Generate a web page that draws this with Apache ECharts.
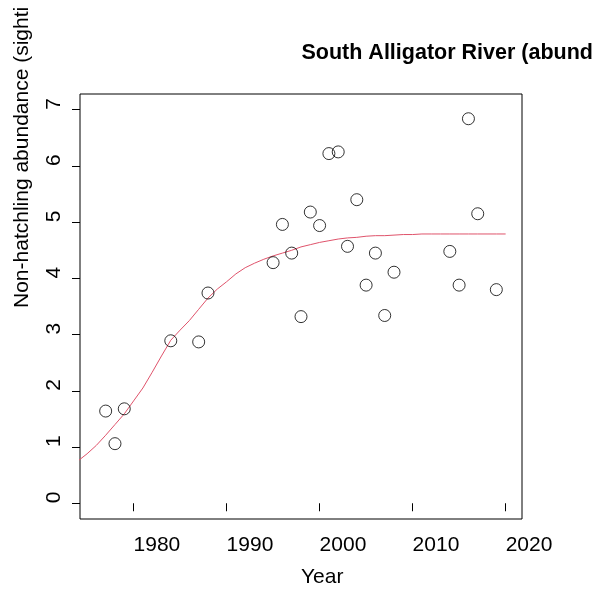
<!DOCTYPE html>
<html>
<head>
<meta charset="utf-8">
<script src="https://cdn.jsdelivr.net/npm/echarts@6/dist/echarts.min.js"></script>
<style>
  html, body { margin: 0; padding: 0; background: #fff; }
  #chart { width: 595px; height: 591px; }
</style>
</head>
<body>
<div id="chart"></div>
<script>
// Survey years and observed non-hatchling abundance
const surveyYears = [1977, 1978, 1979, 1984, 1987, 1988, 1995, 1996, 1997, 1998, 1999, 2000,
                     2001, 2002, 2003, 2004, 2005, 2006, 2007, 2008, 2014, 2015, 2016, 2017, 2019];
const abundance   = [1.64, 1.06, 1.68, 2.89, 2.87, 3.74, 4.28, 4.96, 4.45, 3.32, 5.18, 4.94,
                     6.22, 6.25, 4.57, 5.40, 3.88, 4.45, 3.34, 4.11, 4.48, 3.88, 6.84, 5.15, 3.80];

// Fitted growth curve, one value per year
const fitYears  = [1974, 1975, 1976, 1977, 1978, 1979, 1980, 1981, 1982, 1983, 1984, 1985,
                   1986, 1987, 1988, 1989, 1990, 1991, 1992, 1993, 1994, 1995, 1996, 1997,
                   1998, 1999, 2000, 2001, 2002, 2003, 2004, 2005, 2006, 2007, 2008, 2009,
                   2010, 2011, 2012, 2013, 2014, 2015, 2016, 2017, 2018, 2019, 2020];
const fitValues = [0.75, 0.88, 1.03, 1.21, 1.40, 1.59, 1.82, 2.05, 2.33, 2.62, 2.90, 3.08,
                   3.25, 3.45, 3.65, 3.81, 3.94, 4.08, 4.19, 4.27, 4.34, 4.40, 4.45, 4.50,
                   4.56, 4.60, 4.64, 4.67, 4.70, 4.72, 4.73, 4.75, 4.76, 4.76, 4.77, 4.78,
                   4.78, 4.79, 4.79, 4.79, 4.79, 4.79, 4.79, 4.79, 4.79, 4.79, 4.79];

// Axis tick labels
const xTicks = [1980, 1990, 2000, 2010, 2020];
const yTicks = [0, 1, 2, 3, 4, 5, 6, 7];

const FONT = "'Liberation Sans', Arial, Helvetica, sans-serif";

const chart = echarts.init(document.getElementById('chart'), null, { renderer: 'canvas' });

chart.setOption({
  backgroundColor: '#ffffff',
  animation: false,
  grid: {
    left: 80, top: 94, width: 442, height: 425,
    show: true, borderColor: '#000', borderWidth: 1, backgroundColor: 'transparent',
    containLabel: false, outerBoundsMode: 'none'
  },
  xAxis: {
    type: 'value',
    min: 1974.24, max: 2021.76,
    axisLine: { show: false },
    splitLine: { show: false },
    axisTick: { show: true, customValues: xTicks, length: 8, inside: false,
                lineStyle: { color: '#000', width: 1 } },
    axisLabel: {
      customValues: xTicks, margin: 15.5, align: 'left',
      formatter: (v) => String(v),
      fontFamily: FONT, fontSize: 21, color: '#000'
    }
  },
  yAxis: {
    type: 'value',
    min: -0.28, max: 7.28,
    axisLine: { show: false },
    splitLine: { show: false },
    axisTick: { show: true, customValues: yTicks, length: 8, inside: false,
                lineStyle: { color: '#000', width: 1 } },
    axisLabel: {
      customValues: yTicks, rotate: 90, margin: 25.6, align: 'left', verticalAlign: 'middle',
      formatter: (v) => String(v),
      fontFamily: FONT, fontSize: 21, color: '#000'
    }
  },
  graphic: [
    {
      type: 'text', x: 301.5, y: 53.25,
      style: { text: 'South Alligator River (abund', font: "bold 21.5px " + FONT,
               fill: '#000', textAlign: 'left', textVerticalAlign: 'middle' }
    },
    {
      type: 'text', x: 301, y: 577.7,
      style: { text: 'Year', font: "21px " + FONT,
               fill: '#000', textAlign: 'left', textVerticalAlign: 'middle' }
    },
    {
      type: 'text', x: 22.2, y: 308, rotation: Math.PI / 2,
      style: { text: 'Non-hatchling abundance (sighti', font: "21px " + FONT,
               fill: '#000', textAlign: 'left', textVerticalAlign: 'middle' }
    }
  ],
  series: [
    {
      type: 'line',
      data: fitYears.map((y, i) => [y, fitValues[i]]),
      showSymbol: false, smooth: false, clip: true,
      lineStyle: { color: '#DF536B', width: 1 },
      z: 2
    },
    {
      type: 'scatter',
      data: surveyYears.map((y, i) => [y, abundance[i]]),
      symbol: 'circle', symbolSize: 12,
      itemStyle: { color: 'rgba(0,0,0,0)', borderColor: '#000', borderWidth: 1 },
      z: 3
    }
  ]
});
</script>
</body>
</html>
